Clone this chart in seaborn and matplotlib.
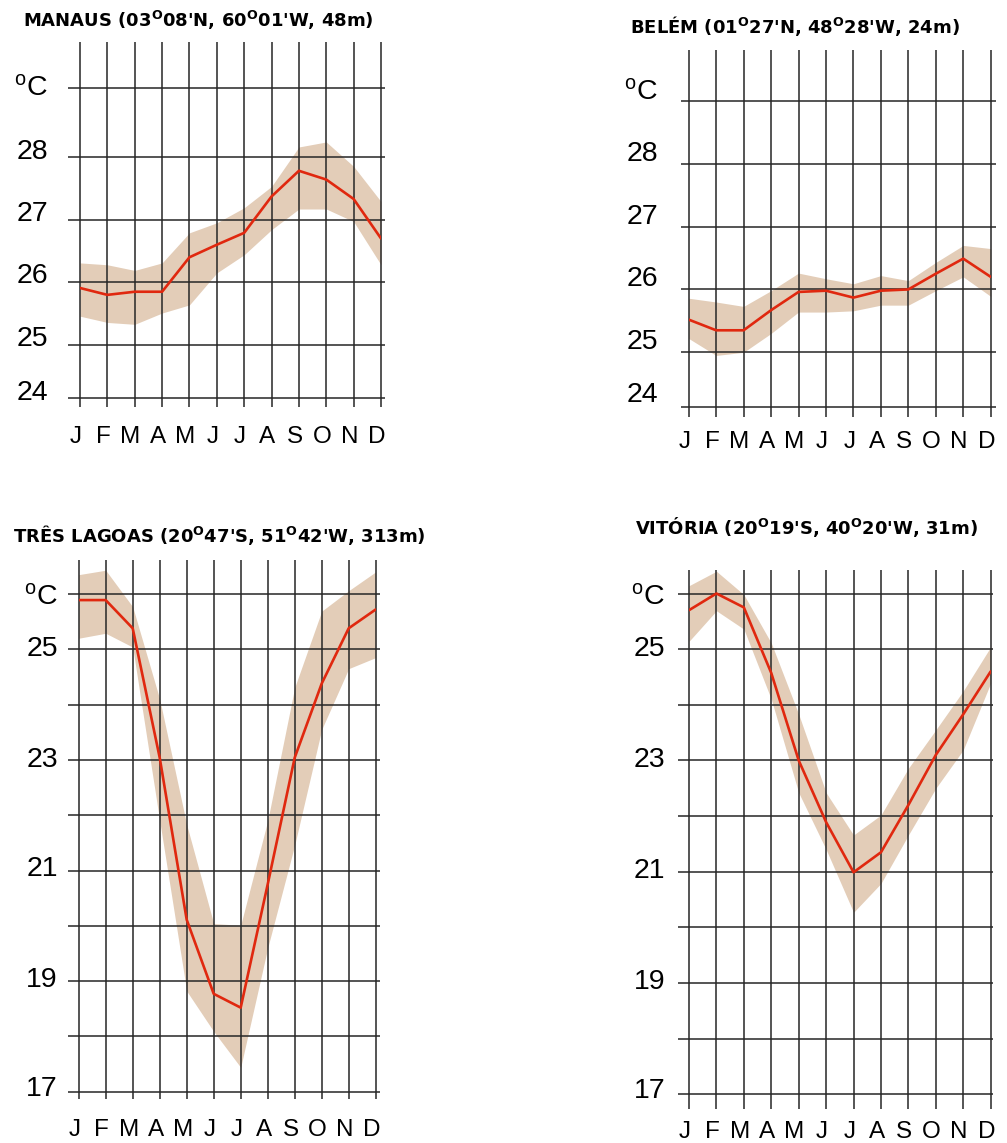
import numpy as np
import matplotlib.pyplot as plt
import seaborn as sns

# ------------------------------ data ------------------------------ #
months = ['J', 'F', 'M', 'A', 'M', 'J', 'J', 'A', 'S', 'O', 'N', 'D']

manaus_mean = [25.91, 25.80, 25.85, 25.85, 26.40, 26.60, 26.79, 27.37, 27.78, 27.64, 27.33, 26.70]
manaus_high = [26.31, 26.28, 26.19, 26.31, 26.79, 26.95, 27.19, 27.53, 28.16, 28.24, 27.85, 27.29]
manaus_low = [25.46, 25.36, 25.33, 25.51, 25.64, 26.15, 26.44, 26.84, 27.17, 27.17, 26.97, 26.28]

belem_mean = [25.52, 25.35, 25.35, 25.67, 25.96, 25.98, 25.87, 25.98, 26.00, 26.25, 26.49, 26.20]
belem_high = [25.86, 25.80, 25.73, 25.98, 26.26, 26.17, 26.09, 26.22, 26.14, 26.43, 26.70, 26.65]
belem_low = [25.22, 24.95, 25.00, 25.30, 25.64, 25.64, 25.66, 25.75, 25.75, 25.98, 26.20, 25.89]

tres_mean = [25.89, 25.89, 25.38, 23.04, 20.11, 18.77, 18.52, 20.75, 23.04, 24.38, 25.38, 25.72]
tres_high = [26.35, 26.43, 25.77, 24.10, 21.83, 20.04, 20.01, 21.90, 24.31, 25.69, 26.06, 26.40]
tres_low = [25.20, 25.29, 25.04, 21.90, 18.82, 18.09, 17.44, 19.60, 21.46, 23.55, 24.65, 24.85]

vitoria_mean = [25.70, 26.00, 25.75, 24.57, 23.00, 21.89, 20.99, 21.35, 22.20, 23.10, 23.83, 24.60]
vitoria_high = [26.14, 26.40, 25.98, 25.11, 23.83, 22.42, 21.66, 22.02, 22.86, 23.55, 24.25, 25.04]
vitoria_low = [25.14, 25.69, 25.36, 24.10, 22.42, 21.40, 20.27, 20.79, 21.66, 22.50, 23.19, 24.39]

titles = [r"MANAUS (03$^{\mathbf{O}}$08'N, 60$^{\mathbf{O}}$01'W, 48m)",
          r"BELÉM (01$^{\mathbf{O}}$27'N, 48$^{\mathbf{O}}$28'W, 24m)",
          r"TRÊS LAGOAS (20$^{\mathbf{O}}$47'S, 51$^{\mathbf{O}}$42'W, 313m)",
          r"VITÓRIA (20$^{\mathbf{O}}$19'S, 40$^{\mathbf{O}}$20'W, 31m)"]

DEG = r'$^{\mathrm{o}}$C'

# ------------------------------ style ------------------------------ #
sns.set_theme(style='white')
plt.rcParams['font.family'] = ['Liberation Sans', 'DejaVu Sans']
plt.rcParams['text.color'] = 'black'
plt.rcParams['mathtext.fontset'] = 'custom'
plt.rcParams['mathtext.rm'] = 'Liberation Sans'
plt.rcParams['mathtext.bf'] = 'DejaVu Sans:bold'
plt.rcParams['mathtext.it'] = 'Liberation Sans:italic'

RED = '#e0280f'
TAN = '#e3cdb8'
GRID = '#262626'

W, H = 1007, 1143
fig = plt.figure(figsize=(W / 100, H / 100), dpi=100)

# layout in pixels: (J line x, D line x, two reference levels -> pixel y,
# top/bottom of vertical lines, horizontal line extent, grid levels and labels)
layouts = [
    dict(xJ=80, xD=381, ref=((28, 157), (25, 345)), top=42, bot=407, hx=(68, 385),
         levels=[24.16, 25, 26, 27, 28, 29.1], labels=['24', '25', '26', '27', '28', DEG],
         lab_x=48, lab_dy=[5, 6, 6, 6, 5, 0], title=(23, 20), month_y=437),
    dict(xJ=688.7, xD=990.7, ref=((28, 163.7), (25, 352.3)), top=50, bot=416.7, hx=(681, 996),
         levels=[24.13, 25, 26, 27, 28, 28.99], labels=['24', '25', '26', '27', '28', DEG],
         lab_x=658, lab_dy=[12, 10, 10, 10, 10, 9], title=(630, 26), month_y=442),
    dict(xJ=78.7, xD=375.7, ref=((25, 649.3), (17, 1091.7)), top=560, bot=1099, hx=(68, 380),
         levels=list(range(17, 27)), labels=['17', '', '19', '', '21', '', '23', '', '25', DEG],
         lab_x=58, lab_dy=[3, 0, 1, 0, 1, 0, 0, 0, 0, -4], title=(13, 535), month_y=1130),
    dict(xJ=689, xD=990.7, ref=((26, 593.5), (17, 1094.3)), top=570, bot=1109, hx=(678, 993),
         levels=list(range(17, 27)), labels=['17', '', '19', '', '21', '', '23', '', '25', DEG],
         lab_x=665, lab_dy=[3, 0, 1, 0, 1, 0, 0, 0, 0, -4], title=(635, 527), month_y=1132),
]

series = [(manaus_mean, manaus_low, manaus_high),
          (belem_mean, belem_low, belem_high),
          (tres_mean, tres_low, tres_high),
          (vitoria_mean, vitoria_low, vitoria_high)]


def draw_panel(lay, mean, low, high, title):
    (va, pa), (vb, pb) = lay['ref']
    s = (pb - pa) / (va - vb)          # pixels per degree
    lo = va - (lay['bot'] - pa) / s
    hi = va + (pa - lay['top']) / s
    dx = (lay['xD'] - lay['xJ']) / 11  # pixels per month

    ax = fig.add_axes([lay['xJ'] / W, 1 - lay['bot'] / H,
                       (lay['xD'] - lay['xJ']) / W, (lay['bot'] - lay['top']) / H])
    ax.set_xlim(0, 11)
    ax.set_ylim(lo, hi)

    x = np.arange(12)
    ax.fill_between(x, low, high, color=TAN, lw=0, zorder=1)

    # grid
    ax.vlines(x, lo, hi, color=GRID, lw=1.1, zorder=2, clip_on=False)
    x0 = (lay['hx'][0] - lay['xJ']) / dx
    x1 = (lay['hx'][1] - lay['xJ']) / dx
    ax.hlines(lay['levels'], x0, x1, color=GRID, lw=1.1, zorder=2, clip_on=False)

    sns.lineplot(x=x, y=mean, ax=ax, color=RED, lw=1.9, zorder=3)
    ax.axis('off')

    # y labels
    xl = (lay['lab_x'] - lay['xJ']) / dx
    for lev, lab, dy in zip(lay['levels'], lay['labels'], lay['lab_dy']):
        if lab:
            ax.text(xl, lev + dy / s, lab, ha='right', va='center', fontsize=20.5,
                    color='black', clip_on=False)

    # month labels
    ym = lo - (lay['month_y'] - lay['bot']) / s
    for i, m in enumerate(months):
        ax.text(i - 0.15, ym, m, ha='center', va='center', fontsize=17.5,
                color='black', clip_on=False)

    fig.text(lay['title'][0] / W, 1 - lay['title'][1] / H, title, ha='left', va='center',
             fontsize=13, fontweight='bold', family='DejaVu Sans', color='black')


for lay, (m, l, h), t in zip(layouts, series, titles):
    draw_panel(lay, m, l, h, t)

fig.savefig('out.png', dpi=100)
